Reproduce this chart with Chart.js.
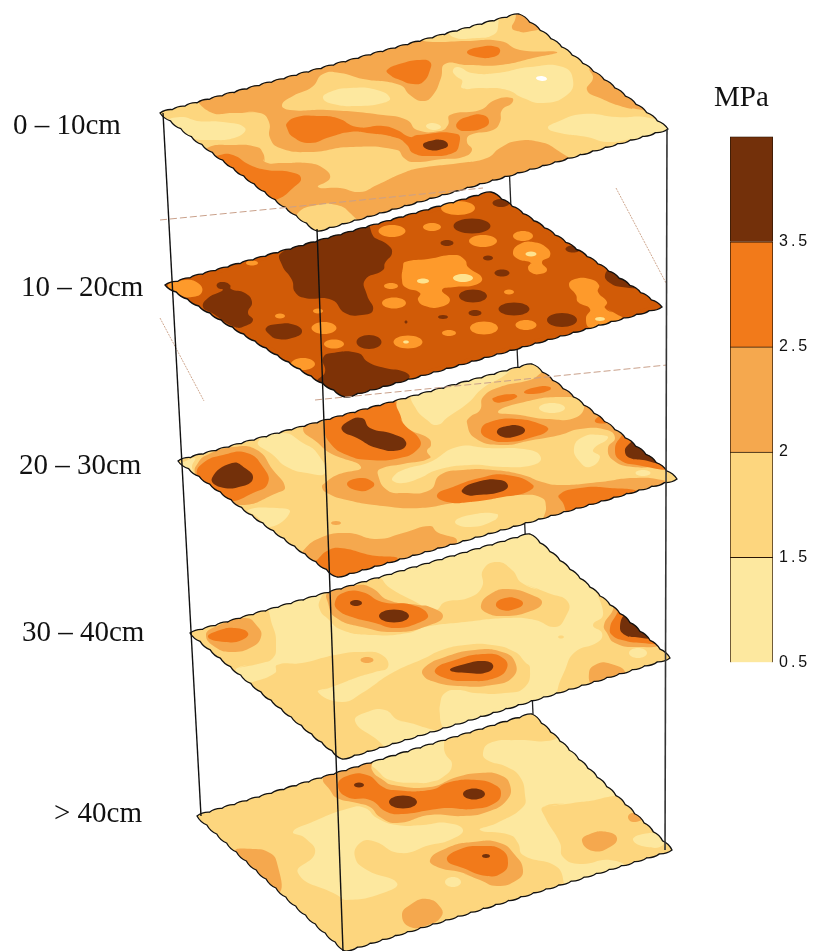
<!DOCTYPE html>
<html>
<head>
<meta charset="utf-8">
<title>MPa layers</title>
<script src="https://cdn.jsdelivr.net/npm/chart.js@4/dist/chart.umd.min.js"></script>
<style>
  html, body { margin: 0; padding: 0; background: #fff; }
  #wrap { position: relative; width: 813px; height: 951px; overflow: hidden; }
  #plates { position: absolute; left: 0; top: 0; }
  #bar { position: absolute; left: 730px; top: 129px; }
  .lbl { position: absolute; font-family: "Liberation Serif", serif; font-size: 29px; line-height: 32px; color: #111; white-space: nowrap; }
</style>
</head>
<body>
<div id="wrap">
  <canvas id="plates" width="813" height="951"></canvas>
  <canvas id="bar" width="83" height="541"></canvas>
</div>
<script>
// colour bar
var barTicks = ['0.5', '1.5', '2', '2.5', '3.5', ''];
var barSpans = [1, 1, 1, 1, 1];
var bandColors = ['#FDE89F', '#FDD67E', '#F5A84E', '#F27A1A', '#73300A'];
var plate2Colors = ['#FEE38F', '#FDD67E', '#FE9A2B', '#D15B07', '#7E3206'];

var depthLabels = ['0 – 10cm', '10 – 20cm', '20 – 30cm', '30 – 40cm', '> 40cm'];
var unitLabel = 'MPa';

// plate corners: left, back, right, front
var plate1Corners = [[160, 113], [519, 14], [668, 129], [317, 231]];
var plate2Corners = [[165, 285], [491, 192], [662, 307], [345, 397]];
var plate3Corners = [[178, 461], [532, 364], [677, 479], [337, 577]];
var plate4Corners = [[190, 633], [530, 534], [670, 658], [342, 759]];
var plate5Corners = [[197, 816], [532, 714], [672, 850], [345, 951]];

// contour regions, painted in order
// [level, outline] or [level, cx, cy, rx, ry] for the small round ones
var plate1Regions = [
  [2, [[200,96],[300,66],[405,40],[433,42],[467,41],[500,41],[520,50],[557,52],[533,58],[500,65],[467,65],[445,64],[441,78],[433,95],[423,101],[410,95],[400,85],[363,79],[340,73],[323,74],[312,87],[293,96],[282,105],[290,110],[327,110],[383,115],[407,120],[417,130],[440,131],[448,125],[450,115],[480,110],[495,100],[512,98],[512,103],[502,110],[500,122],[493,130],[470,135],[467,142],[472,150],[463,157],[443,159],[413,162],[404,158],[397,150],[350,147],[310,152],[280,148],[270,138],[269,122],[260,113],[233,113],[210,112]]],
  [2, [[207,148],[233,145],[257,147],[263,153],[265,162],[283,163],[307,163],[323,168],[330,178],[318,187],[340,188],[360,192],[377,185],[403,173],[420,168],[460,163],[487,158],[500,148],[517,141],[540,142],[557,150],[568,162],[450,215],[320,240],[200,160]]],
  [2, [[512,28],[515,20],[519,8],[545,25],[527,32],[517,31]]],
  [2, [[590,68],[593,78],[587,90],[600,98],[627,108],[642,110],[665,118],[610,62]]],
  [1, [[298,213],[317,205],[337,205],[350,213],[357,225],[323,236],[300,225]]],
  [3, [[220,155],[233,155],[250,165],[267,170],[290,172],[301,178],[293,188],[278,199],[265,200],[212,160]]],
  [3, [[287,123],[297,117],[317,116],[337,118],[357,127],[383,126],[397,130],[410,137],[417,135],[457,134],[459,145],[453,153],[430,156],[413,153],[407,145],[397,138],[367,133],[350,132],[330,137],[310,143],[293,137],[287,128]]],
  [3, [[457,123],[467,117],[483,115],[489,122],[483,128],[467,131],[458,129]]],
  [3, [[387,70],[403,63],[420,60],[430,62],[430,70],[423,82],[413,84],[400,80],[390,75]]],
  [3, [[467,52],[480,47],[497,47],[500,52],[493,57],[477,57]]],
  [4, [[423,145],[430,141],[442,140],[448,145],[442,149],[430,150]]],
  [0, [[426,126],[433,123],[441,127],[433,130]]],
  [0, [[450,28],[495,15],[498,27],[493,35],[477,38],[453,37]]],
  [0, [[453,70],[458,67],[472,73],[497,73],[530,67],[563,67],[573,80],[567,95],[543,103],[523,98],[507,90],[480,88],[462,88],[462,80],[455,75]]],
  [0, [[548,128],[557,122],[583,114],[617,117],[650,118],[672,129],[660,136],[633,139],[607,142],[587,137],[560,133]]],
  [0, [[180,117],[197,121],[223,122],[245,128],[237,137],[210,140],[190,137],[168,122]]],
  [0, [[323,98],[330,92],[350,88],[377,90],[390,98],[383,103],[357,106],[333,104]]],
  ['white', [[536,78],[542,76],[547,79],[542,81]]]
];

var plate2Regions = [
  [4, [[281,253],[318,238],[365,224],[375,238],[388,245],[392,253],[385,263],[383,270],[365,280],[367,295],[373,310],[362,315],[345,313],[332,300],[305,298],[295,292],[292,280],[282,265]]],
  [4, [[217,284],[223,282],[230,285],[231,289],[245,293],[252,302],[248,313],[253,320],[245,326],[235,327],[212,313],[203,307],[208,298],[223,290],[218,288]]],
  [4, [[266,328],[278,324],[295,325],[302,332],[292,338],[278,339],[270,335]]],
  [4, [[323,358],[332,353],[358,353],[368,362],[385,368],[405,372],[409,378],[388,389],[368,395],[345,402],[318,382],[325,372]]],
  [4, [[605,275],[613,268],[625,277],[640,287],[622,287],[610,283]]],
  [4, 369, 342, 12.5, 7], [4, 472, 226, 18.5, 7.5], [4, 447, 243, 6.5, 3], [4, 488, 258, 5, 2.5],
  [4, 502, 273, 7.5, 3.5], [4, 473, 296, 14, 6.5], [4, 514, 309, 15.5, 6.5], [4, 475, 313, 6.5, 3],
  [4, 443, 317, 5, 2], [4, 562, 320, 15, 7], [4, 573, 249, 7.5, 3.5], [4, 501, 203, 8.5, 4],
  [4, 406, 322, 1.5, 1.5], [4, 405, 273, 3, 3],
  [2, [[168,285],[185,280],[198,283],[202,292],[192,297],[180,295]]],
  [2, [[405,262],[428,259],[455,255],[465,260],[468,267],[482,278],[475,285],[455,287],[442,290],[450,300],[440,307],[425,306],[418,300],[420,293],[405,287],[402,280],[403,267]]],
  [2, [[513,252],[520,244],[533,242],[547,248],[550,256],[542,262],[547,270],[540,274],[532,273],[528,268],[531,263],[518,259]]],
  [2, [[569,285],[575,279],[590,279],[599,285],[598,292],[607,302],[605,308],[618,315],[622,318],[605,325],[590,328],[586,318],[590,309],[578,302],[576,295]]],
  [2, 252, 263, 6, 2.5], [2, 280, 316, 5, 2.5], [2, 318, 311, 5, 2.5], [2, 324, 328, 12.5, 6],
  [2, 334, 344, 10, 4.5], [2, 303, 364, 12, 6], [2, 392, 231, 13.5, 6], [2, 391, 286, 7, 3],
  [2, 394, 303, 12, 5.5], [2, 408, 342, 14.5, 6.5], [2, 458, 208, 17, 7], [2, 432, 227, 9, 4],
  [2, 483, 241, 14, 6], [2, 523, 236, 10, 5], [2, 484, 328, 14, 6.5], [2, 526, 325, 10.5, 5],
  [2, 449, 333, 7, 3], [2, 509, 292, 5, 2.5],
  [0, 423, 281, 6, 2.5], [0, 463, 278, 10, 4], [0, 531, 254, 5.5, 2.5], [0, 600, 319, 5, 2], [0, 406, 342, 3, 1.5]
];

var plate3Regions = [
  [0, [[258,442],[283,433],[303,443],[317,453],[325,473],[307,473],[287,467],[273,455]]],
  [0, [[413,395],[470,372],[510,368],[505,375],[483,388],[468,403],[448,417],[437,425],[427,420],[415,407]]],
  [2, [[303,429],[317,420],[393,398],[397,420],[410,430],[428,438],[431,445],[427,451],[430,458],[403,464],[380,469],[378,475],[387,490],[403,493],[430,490],[440,475],[463,470],[493,470],[523,475],[542,482],[560,485],[600,482],[633,478],[662,480],[668,485],[633,500],[545,522],[546,507],[542,498],[520,495],[487,498],[453,503],[420,508],[383,506],[347,500],[327,493],[322,487],[325,483],[337,475],[361,467],[330,453],[318,443]]],
  [2, [[467,423],[470,417],[480,410],[483,397],[500,387],[530,380],[550,372],[625,425],[672,465],[660,466],[633,467],[613,460],[608,448],[615,438],[607,430],[580,429],[560,435],[533,440],[500,445],[475,438]]],
  [2, [[302,552],[320,538],[347,533],[377,539],[403,533],[430,526],[437,532],[457,542],[430,570],[340,590],[300,560]]],
  [0, [[393,477],[403,470],[430,462],[457,447],[487,448],[530,450],[541,458],[533,465],[503,467],[470,465],[437,470],[420,478],[403,483],[393,481]]],
  [1, [[498,412],[520,403],[563,397],[583,403],[577,417],[547,419],[520,415]]],
  [0, 552, 408, 13, 5],
  [0, [[574,448],[583,437],[600,435],[608,438],[593,450],[600,457],[590,467],[580,462]]],
  [0, [[248,510],[277,508],[290,512],[270,527],[257,517]]],
  [0, [[455,522],[470,515],[497,514],[495,520],[470,527]]],
  [0, [[183,462],[195,458],[192,467],[195,475],[180,463]]],
  [0, 643, 473, 7.5, 3],
  [2, 336, 523, 5, 2],
  [2, [[195,473],[198,463],[207,455],[233,447],[257,450],[273,470],[285,487],[277,493],[240,505],[205,492]]],
  [3, [[197,475],[203,463],[223,455],[247,453],[263,467],[268,483],[253,493],[228,501],[208,490]]],
  [3, [[325,428],[330,415],[390,398],[398,410],[403,423],[420,440],[417,450],[400,458],[370,460],[347,455],[330,443]]],
  [3, [[347,484],[360,478],[373,482],[373,487],[360,491]]],
  [3, [[437,495],[453,487],[480,478],[507,475],[533,485],[527,492],[503,497],[470,502],[447,502]]],
  [3, [[559,495],[580,488],[610,488],[636,492],[600,506],[570,515],[563,503]]],
  [3, [[317,560],[327,551],[340,548],[370,555],[397,560],[340,590],[305,565]]],
  [3, [[481,430],[490,422],[517,419],[543,425],[548,430],[533,437],[507,442],[487,438]]],
  [3, [[493,398],[513,394],[517,397],[503,402],[495,402]]],
  [3, [[524,392],[537,387],[550,387],[550,390],[533,394]]],
  [3, [[595,420],[602,416],[608,422],[597,423]]],
  [3, [[615,450],[620,438],[630,431],[668,467],[637,465],[620,460]]],
  [4, [[212,478],[232,463],[245,468],[253,478],[243,486],[220,487]]],
  [4, [[342,430],[347,422],[362,418],[370,428],[393,434],[406,442],[400,450],[377,448],[357,438]]],
  [4, [[462,490],[477,482],[500,480],[508,486],[500,492],[477,495],[467,495]]],
  [4, [[497,431],[507,426],[520,426],[525,431],[517,436],[503,437]]],
  [4, [[625,452],[628,445],[637,441],[657,462],[643,460],[630,458]]]
];

var plate4Regions = [
  [1, [[250,683],[275,673],[277,665],[302,663],[335,655],[362,652],[382,655],[388,667],[375,672],[358,677],[332,687],[318,692],[342,702],[362,693],[392,673],[425,658],[442,650],[465,645],[492,645],[515,652],[525,662],[530,668],[525,687],[505,693],[475,693],[458,690],[445,693],[440,705],[440,717],[440,735],[345,770],[228,690]]],
  [1, [[185,630],[260,605],[273,627],[276,647],[273,658],[262,663],[237,668],[235,675]]],
  [1, [[320,600],[330,588],[375,576],[390,588],[412,600],[435,610],[445,602],[468,598],[482,587],[483,570],[497,562],[512,570],[522,583],[548,593],[568,602],[565,618],[555,627],[535,620],[508,618],[465,622],[425,627],[408,633],[372,635],[342,630],[327,618],[320,610]]],
  [1, [[557,693],[565,670],[575,652],[598,642],[602,633],[593,625],[603,615],[598,590],[680,658],[560,700]]],
  [0, [[355,721],[367,712],[385,710],[398,720],[420,726],[440,735],[395,750],[375,738]]],
  [0, 638, 653, 9, 5],
  [1, 561, 637, 3, 1.5],
  [2, [[206,635],[215,627],[245,618],[258,627],[261,637],[252,647],[232,652],[215,647]]],
  [2, [[328,593],[358,585],[372,588],[388,600],[418,605],[430,607],[443,616],[430,625],[398,632],[362,627],[335,617],[328,603]]],
  [2, [[481,605],[492,593],[508,589],[532,595],[542,603],[528,612],[505,616],[487,613]]],
  [2, [[425,667],[445,657],[475,650],[502,652],[515,662],[513,677],[492,685],[458,686],[435,682],[423,675]]],
  [2, [[604,625],[612,612],[617,604],[658,643],[638,647],[615,643],[607,633]]],
  [2, [[589,673],[595,665],[608,663],[625,673],[605,684],[593,686]]],
  [2, 367, 660, 6.5, 3],
  [3, [[208,637],[220,630],[235,628],[248,633],[242,640],[225,642]]],
  [3, [[335,602],[343,593],[362,592],[382,602],[412,605],[428,615],[418,623],[395,628],[375,623],[352,617],[338,610]]],
  [3, [[496,604],[505,598],[518,599],[523,604],[515,609],[502,610]]],
  [3, [[435,670],[455,660],[485,654],[503,658],[507,668],[495,678],[468,681],[445,678]]],
  [3, [[610,628],[615,617],[622,610],[657,642],[642,643],[622,640],[612,635]]],
  [4, 356, 603, 6, 3], [4, 394, 616, 15, 6.5],
  [4, [[450,670],[465,664],[483,661],[493,665],[488,672],[468,673]]],
  [4, [[620,627],[626,616],[650,637],[635,637],[625,635]]]
];

var plate5Regions = [
  [0, [[293,832],[310,823],[350,808],[365,808],[377,818],[397,825],[423,825],[447,823],[463,830],[450,840],[430,845],[400,853],[373,841],[360,843],[355,857],[367,870],[397,883],[383,893],[347,900],[337,895],[298,873],[315,853],[305,838]]],
  [0, [[483,753],[490,743],[517,740],[553,740],[565,730],[620,790],[603,798],[573,803],[543,807],[545,817],[560,843],[563,857],[580,864],[610,860],[625,868],[570,888],[557,867],[523,855],[518,843],[510,835],[480,830],[497,823],[523,807],[525,795],[520,777],[507,767],[487,760]]],
  [0, [[367,758],[430,738],[442,738],[445,753],[452,765],[443,777],[430,782],[420,783],[390,780],[377,770]]],
  [0, 453, 882, 8, 5],
  [0, [[633,840],[643,834],[660,835],[663,845],[647,847]]],
  [2, [[235,852],[253,849],[270,853],[277,863],[280,892],[263,880]]],
  [2, [[582,841],[590,834],[607,832],[617,838],[610,847],[593,851]]],
  [2, [[628,817],[633,813],[643,818],[633,822]]],
  [2, [[402,915],[410,905],[427,899],[441,908],[441,917],[428,925],[410,927]]],
  [2, [[323,778],[335,768],[372,758],[372,770],[383,780],[393,785],[430,787],[457,777],[480,773],[500,775],[510,785],[507,800],[487,812],[463,816],[430,815],[397,823],[380,817],[370,807],[357,803],[337,798],[330,790]]],
  [2, [[430,860],[447,848],[473,842],[500,843],[515,855],[523,870],[517,880],[497,886],[480,880],[460,872],[440,868]]],
  [3, [[338,785],[347,776],[367,775],[383,787],[393,790],[430,790],[450,782],[477,780],[495,785],[501,793],[495,803],[473,809],[447,808],[430,810],[403,814],[387,812],[370,800],[347,797]]],
  [3, [[447,860],[458,850],[483,846],[502,850],[508,863],[502,873],[487,876],[463,868]]],
  [4, 359, 785, 5, 2.5], [4, 474, 794, 11, 5.5], [4, 403, 802, 14, 6.5], [4, 486, 856, 4, 2]
];

var backEdge = [[508, 140], [533, 714]];
var leftEdge = [[163, 113], [201, 816]];
var frontEdge = [[317, 229], [343, 951]];
var rightEdge = [[667, 129], [665, 850]];
var guideA = [[160, 220], [483, 188]];
var guideB = [[616, 188], [666, 283]];
var guideC = [[160, 318], [204, 401]];
var guideD = [[315, 400], [667, 365]];

var wavePeriod = 13;
var waveDepth = 2.4;

function toXY(pts) {
  return pts.map(function(p) { return {x: p[0], y: p[1]}; });
}

// start the outline on its neatest outward corner so the overlap stays inside
function startAtCorner(pts) {
  var n = pts.length, area = 0, best = 0, bestSize = Infinity;
  for (var i = 0; i < n; i++) {
    var a = pts[i], b = pts[(i + 1) % n];
    area += a[0] * b[1] - b[0] * a[1];
  }
  for (var j = 0; j < n; j++) {
    var p = pts[(j + n - 1) % n], c = pts[j], q = pts[(j + 1) % n];
    var cross = (c[0] - p[0]) * (q[1] - c[1]) - (c[1] - p[1]) * (q[0] - c[0]);
    if (cross * area > 0 && Math.abs(cross) < bestSize) {
      bestSize = Math.abs(cross);
      best = j;
    }
  }
  return pts.slice(best).concat(pts.slice(0, best));
}

function closedLoop(pts) {
  var s = startAtCorner(pts);
  return [s[s.length - 1]].concat(s, [s[0], s[1]]);
}

function regionDataset(region, corners, colors) {
  var round = !Array.isArray(region[1]);
  var pts = round ? [
    [region[1] - region[3], region[2]], [region[1], region[2] - region[4]],
    [region[1] + region[3], region[2]], [region[1], region[2] + region[4]]
  ] : region[1];
  return {
    data: toXY(closedLoop(pts)),
    backgroundColor: region[0] === 'white' ? '#ffffff' : colors[region[0]],
    borderWidth: 0,
    fill: 'shape',
    tension: round ? 0.55 : 0.5,
    pointRadius: 0,
    corners: corners
  };
}

function plateDatasets(corners, baseLevel, regions, colors) {
  var list = [{
    data: toXY(corners.concat([corners[0]])),
    backgroundColor: colors[baseLevel],
    borderColor: colors[baseLevel],
    borderWidth: 7,
    fill: 'shape',
    tension: 0,
    pointRadius: 0,
    corners: corners
  }];
  regions.forEach(function(r) {
    list.push(regionDataset(r, corners, colors));
  });
  list[list.length - 1].edge = true;
  return list;
}

function lineDataset(pts, color, width, dash) {
  return {
    data: toXY(pts),
    borderColor: color,
    borderWidth: width,
    borderDash: dash || [],
    fill: false,
    tension: 0,
    pointRadius: 0
  };
}

// the plate rims have a small scallop, drawn as a style on the corner points
function traceRim(ctx, chart, corners) {
  var sx = chart.scales.x, sy = chart.scales.y;
  var px = corners.map(function(c) {
    return [sx.getPixelForValue(c[0]), sy.getPixelForValue(c[1])];
  });
  ctx.beginPath();
  ctx.moveTo(px[0][0], px[0][1]);
  for (var i = 0; i < 4; i++) {
    var a = px[i], b = px[(i + 1) % 4];
    var dx = b[0] - a[0], dy = b[1] - a[1];
    var len = Math.sqrt(dx * dx + dy * dy);
    var n = Math.round(len / wavePeriod);
    for (var k = 0; k < n; k++) {
      var t = (k + 0.5) / n, e = (k + 1) / n;
      ctx.quadraticCurveTo(
        a[0] + dx * t + dy / len * waveDepth,
        a[1] + dy * t - dx / len * waveDepth,
        a[0] + dx * e,
        a[1] + dy * e
      );
    }
  }
  ctx.closePath();
}

var plateClip = {
  id: 'plateClip',
  beforeDatasetDraw: function(chart, args) {
    var ds = chart.data.datasets[args.index];
    if (!ds.corners) return;
    chart.ctx.save();
    traceRim(chart.ctx, chart, ds.corners);
    chart.ctx.clip();
  },
  afterDatasetDraw: function(chart, args) {
    var ds = chart.data.datasets[args.index];
    if (!ds.corners) return;
    chart.ctx.restore();
    if (ds.edge) {
      traceRim(chart.ctx, chart, ds.corners);
      chart.ctx.strokeStyle = '#111';
      chart.ctx.lineWidth = 1.3;
      chart.ctx.stroke();
    }
  }
};

// filler has to come after the clip in plugin order
Chart.unregister(Chart.Filler);
Chart.register(plateClip, Chart.Filler);

var datasets = [lineDataset(backEdge, '#222', 1.3)]
  .concat(plateDatasets(plate5Corners, 1, plate5Regions, bandColors))
  .concat(plateDatasets(plate4Corners, 0, plate4Regions, bandColors))
  .concat(plateDatasets(plate3Corners, 1, plate3Regions, bandColors))
  .concat(plateDatasets(plate2Corners, 3, plate2Regions, plate2Colors))
  .concat(plateDatasets(plate1Corners, 1, plate1Regions, bandColors))
  .concat([
    lineDataset(guideA, '#C9A08A', 1, [7, 3]),
    lineDataset(guideB, '#CFA890', 1, [2, 1]),
    lineDataset(guideC, '#CFA890', 1, [2, 1]),
    lineDataset(guideD, '#C9A08A', 1, [7, 3]),
    lineDataset(leftEdge, '#111', 1.4),
    lineDataset(frontEdge, '#111', 1.4),
    lineDataset(rightEdge, '#333', 1.6)
  ]);

datasets.forEach(function(d, i) { d.order = -i; });

new Chart(document.getElementById('plates'), {
  type: 'line',
  data: {datasets: datasets},
  options: {
    responsive: false,
    animation: false,
    parsing: false,
    normalized: false,
    clip: false,
    layout: {padding: 0},
    plugins: {legend: {display: false}, tooltip: {enabled: false}},
    scales: {
      x: {type: 'linear', min: 0, max: 813, display: false},
      y: {type: 'linear', min: 0, max: 951, reverse: true, display: false}
    }
  }
});

// bar tick text is spread out in the original
var tickSpacing = {
  id: 'tickSpacing',
  beforeDraw: function(chart) { chart.ctx.letterSpacing = '3px'; }
};

var barBands = barSpans.map(function(v, i) {
  return {
    data: [v],
    backgroundColor: bandColors[i],
    borderColor: '#2a1505',
    borderWidth: 1,
    barPercentage: 1,
    categoryPercentage: 1,
    stack: 'bar'
  };
});

new Chart(document.getElementById('bar'), {
  type: 'bar',
  data: {labels: [unitLabel], datasets: barBands},
  plugins: [tickSpacing],
  options: {
    responsive: false,
    animation: false,
    layout: {padding: 0},
    plugins: {legend: {display: false}, tooltip: {enabled: false}},
    scales: {
      x: {stacked: true, display: false},
      y: {
        stacked: true,
        position: 'right',
        min: 0,
        max: 5,
        afterFit: function(scale) { scale.width = 40; },
        grid: {display: false},
        border: {display: false},
        ticks: {
          stepSize: 1,
          padding: -2,
          color: '#111',
          font: {family: '"Liberation Sans", sans-serif', size: 16},
          callback: function(v) { return barTicks[v]; }
        }
      }
    }
  }
});

// text labels
var labelLeft = [13, 21, 19, 22, 54];
var labelTop = [108, 270, 448, 615, 796];
var wrap = document.getElementById('wrap');
depthLabels.forEach(function(t, i) {
  var el = document.createElement('div');
  el.className = 'lbl';
  el.textContent = t;
  el.style.left = labelLeft[i] + 'px';
  el.style.top = labelTop[i] + 'px';
  wrap.appendChild(el);
});
var unit = document.createElement('div');
unit.className = 'lbl';
unit.textContent = unitLabel;
unit.style.left = '714px';
unit.style.top = '80px';
wrap.appendChild(unit);
</script>
</body>
</html>
